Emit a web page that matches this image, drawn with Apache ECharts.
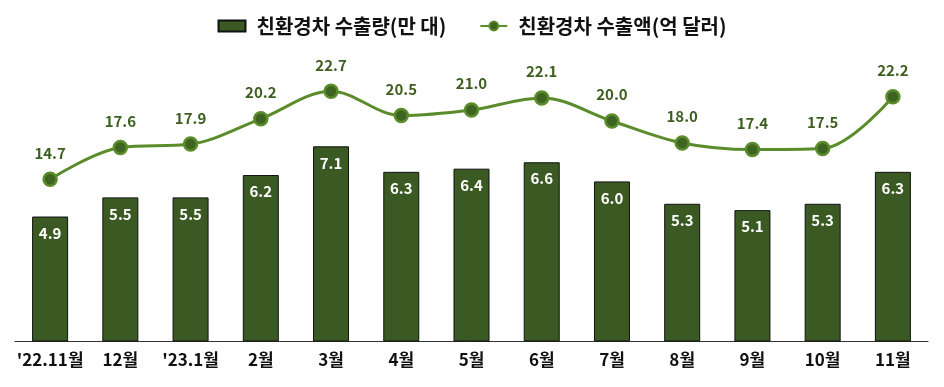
<!DOCTYPE html>
<html><head><meta charset="utf-8">
<script src="https://cdn.jsdelivr.net/npm/echarts@6/dist/echarts.min.js"></script>
<style>html,body{margin:0;padding:0;background:#fff}#c{width:944px;height:387px}</style>
</head><body><div id="c"></div>
<script>
const categories = ["'22.11월","12월","'23.1월","2월","3월","4월","5월","6월","7월","8월","9월","10월","11월"];
const volume = [4.9,5.5,5.5,6.2,7.1,6.3,6.4,6.6,6.0,5.3,5.1,5.3,6.3];
const amount = [14.7,17.6,17.9,20.2,22.7,20.5,21.0,22.1,20.0,18.0,17.4,17.5,22.2];
const volumeName = "친환경차 수출량(만 대)";
const amountName = "친환경차 수출액(억 달러)";
const font = "'Noto Sans CJK KR', sans-serif";
const chart = echarts.init(document.getElementById('c'));
chart.setOption({
  animation:false,
  legend:{
    top:11, left:'center', itemGap:33, itemWidth:27, itemHeight:11,
    textStyle:{fontFamily:font, fontSize:20, fontWeight:'bold', color:'#111', padding:[0,0,0,6]},
    data:[{name:volumeName, icon:'rect'},{name:amountName}]
  },
  grid:{left:15, right:16, top:11, bottom:46},
  xAxis:{type:'category', data:categories,
    axisLine:{lineStyle:{color:'#333', width:1}}, axisTick:{show:false},
    axisLabel:{fontFamily:font, fontSize:17, fontWeight:'bold', color:'#111', margin:10, interval:0}},
  yAxis:[
    {type:'value', min:1, max:11.34, show:false, splitLine:{show:false}},
    {type:'value', min:0, max:30, show:false, splitLine:{show:false}}
  ],
  series:[
    {name:volumeName, type:'bar', data:volume, yAxisIndex:0, barWidth:36,
     itemStyle:{color:'#3b5a23', borderColor:'#111', borderWidth:1},
     label:{show:true, position:'insideTop', distance:9, formatter:p=>p.value.toFixed(1),
       fontFamily:font, fontSize:15, fontWeight:'bold', color:'#fff'}},
    {name:amountName, type:'line', data:amount, yAxisIndex:1, smooth:0.35,
     symbol:'circle', symbolSize:13,
     lineStyle:{color:'#5b8c2c', width:3},
     itemStyle:{color:'#3d6421', borderColor:'#5b8c2c', borderWidth:2.5},
     label:{show:true, position:'top', distance:11, formatter:p=>p.value.toFixed(1),
       fontFamily:font, fontSize:15, fontWeight:'bold', color:'#3d5f1f'}}
  ]
});
</script></body></html>
